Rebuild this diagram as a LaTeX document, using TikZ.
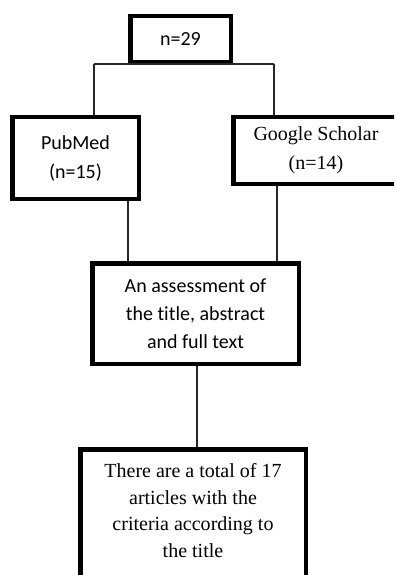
\documentclass[tikz,border=0pt]{standalone}
\usepackage{fontspec}
\setmainfont{Liberation Serif}
\newfontfamily\carlito[Ligatures=NoCommon]{Carlito}
\begin{document}
\begin{tikzpicture}[x=1pt,y=-1pt,
  box/.style={draw=black, line width=4.5pt, inner sep=0pt, align=center, fill=white},
  conn/.style={draw=black!85, line width=1.2pt},
  sanstxt/.style={font=\carlito\fontsize{20}{29}\selectfont},
  seriftxt/.style={font=\fontsize{20}{29}\selectfont}]
\clip (0,0) rectangle (394,575);
\fill[white] (0,0) rectangle (394,575);
\coordinate (tl) at (94,64);
\coordinate (tr) at (274,64);
\node[box, sanstxt, minimum width=100.5pt, minimum height=46.5pt] (top) at (180.5,39.5) {n=29};
\node[box, sanstxt, minimum width=126.5pt, minimum height=81.5pt] (pub) at (75.5,158) {PubMed\\(n=15)};
\node[box, seriftxt, minimum width=165.5pt, minimum height=66.5pt] (gs) at (316,150.5) {Google Scholar\\(n=14)};
\node[box, font=\carlito\fontsize{20}{28}\selectfont, minimum width=206.5pt, minimum height=100.5pt] (ass) at (195.5,313.5) {An assessment of\\the title, abstract\\and full text};
\node[box, font=\fontsize{20}{26.5}\selectfont, minimum width=225.5pt, minimum height=148.5pt] (bot) at (193,523.5) {There are a total of 17\\articles with the\\criteria according to\\the title\\\mbox{}};
\draw[conn] (tl) -- (tr);
\draw[conn] (tl) -- (tl |- pub.north);
\draw[conn] (tr) -- (tr |- gs.north);
\draw[conn] ([xshift=52.5pt]pub.south) -- ([xshift=52.5pt]pub.south |- ass.north);
\draw[conn] ([xshift=-39pt]gs.south) -- ([xshift=-39pt]gs.south |- ass.north);
\draw[conn] ([xshift=1.5pt]ass.south) -- ([xshift=1.5pt]ass.south |- bot.north);
\end{tikzpicture}
\end{document}
